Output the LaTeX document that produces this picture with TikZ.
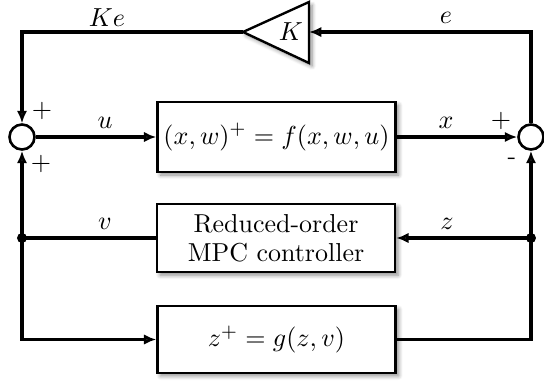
\documentclass[tikz,border=0pt]{standalone}
\usetikzlibrary{arrows.meta,shadows.blur,calc}
\begin{document}
\begin{tikzpicture}[x=0.42pt,y=-0.42pt,
  every node/.style={font=\fontsize{10.9}{13}\selectfont},
  sh/.style={blur shadow={shadow blur steps=6,shadow xshift=1.3pt,shadow yshift=-1.3pt,shadow opacity=45}},
  blockbox/.style={draw,line width=1pt,fill=white,minimum width=100pt,align=center,inner sep=2pt,sh},
  sumnode/.style={draw,circle,line width=1.1pt,fill=white,minimum size=10.5pt,inner sep=0pt},
  wire/.style={line width=1.3pt},
  arr/.style={wire,-{Latex[length=5.2pt,width=4.4pt]}},
  sig/.style={inner sep=1pt},
  sgn/.style={inner sep=0pt,font=\fontsize{11}{13}\selectfont},
  jdot/.style={circle,fill=black,inner sep=0pt,minimum size=4.2pt}]
\useasboundingbox (0,0) rectangle (544,384);
% blocks
\node[blockbox,minimum height=29.4pt] (plant) at (276.5,137) {$(x,w)^+ = f(x,w,u)$};
\node[blockbox,minimum height=28.6pt] (mpc) at (276,238) {Reduced-order\\[-1pt]MPC controller};
\node[blockbox,minimum height=28pt] (zdyn) at (276.5,339.5) {$z^+ = g(z,v)$};
% gain
\coordinate (gin) at (309,32);
\coordinate (gout) at (243,32);
\draw[line width=1pt,fill=white,sh] (gout) -- (309,2) -- (309,63) -- cycle;
\node (gain) at (291,32) {$K$};
% summing junctions
\node[sumnode] (sumL) at (22,137) {};
\node[sumnode] (sumR) at (531,137) {};
% junction dots
\node[jdot] (dotL) at (22,238) {};
\node[jdot] (dotR) at (531,238) {};
% connectors
\draw[arr] (sumR.north) |- (gin);
\draw[arr] (gout) -| (sumL.north);
\draw[arr] (sumL.east) -- (plant.west);
\draw[arr] (plant.east) -- (sumR.west);
\draw[arr] (dotR.center) -- (mpc.east);
\draw[arr] (zdyn.east) -| (sumR.south);
\draw[wire] (mpc.west) -- (dotL.center);
\draw[arr] (dotL.center) -- (sumL.south);
\draw[arr] (dotL.center) |- (zdyn.west);
% signal labels
\node[sig] (lKe) at (107,18) {$Ke$};
\node[sig] (le) at (446,18) {$e$};
\node[sig] (lu) at (105,123) {$u$};
\node[sig] (lx) at (446,123) {$x$};
\node[sig] (lv) at (105,224) {$v$};
\node[sig] (lz) at (447,224) {$z$};
% signs
\node[sgn] (s1) at (42,111) {$+$};
\node[sgn] (s2) at (41,164) {$+$};
\node[sgn] (s3) at (501,121) {$+$};
\node[sgn] (s4) at (512,161) {-};
\end{tikzpicture}
\end{document}
